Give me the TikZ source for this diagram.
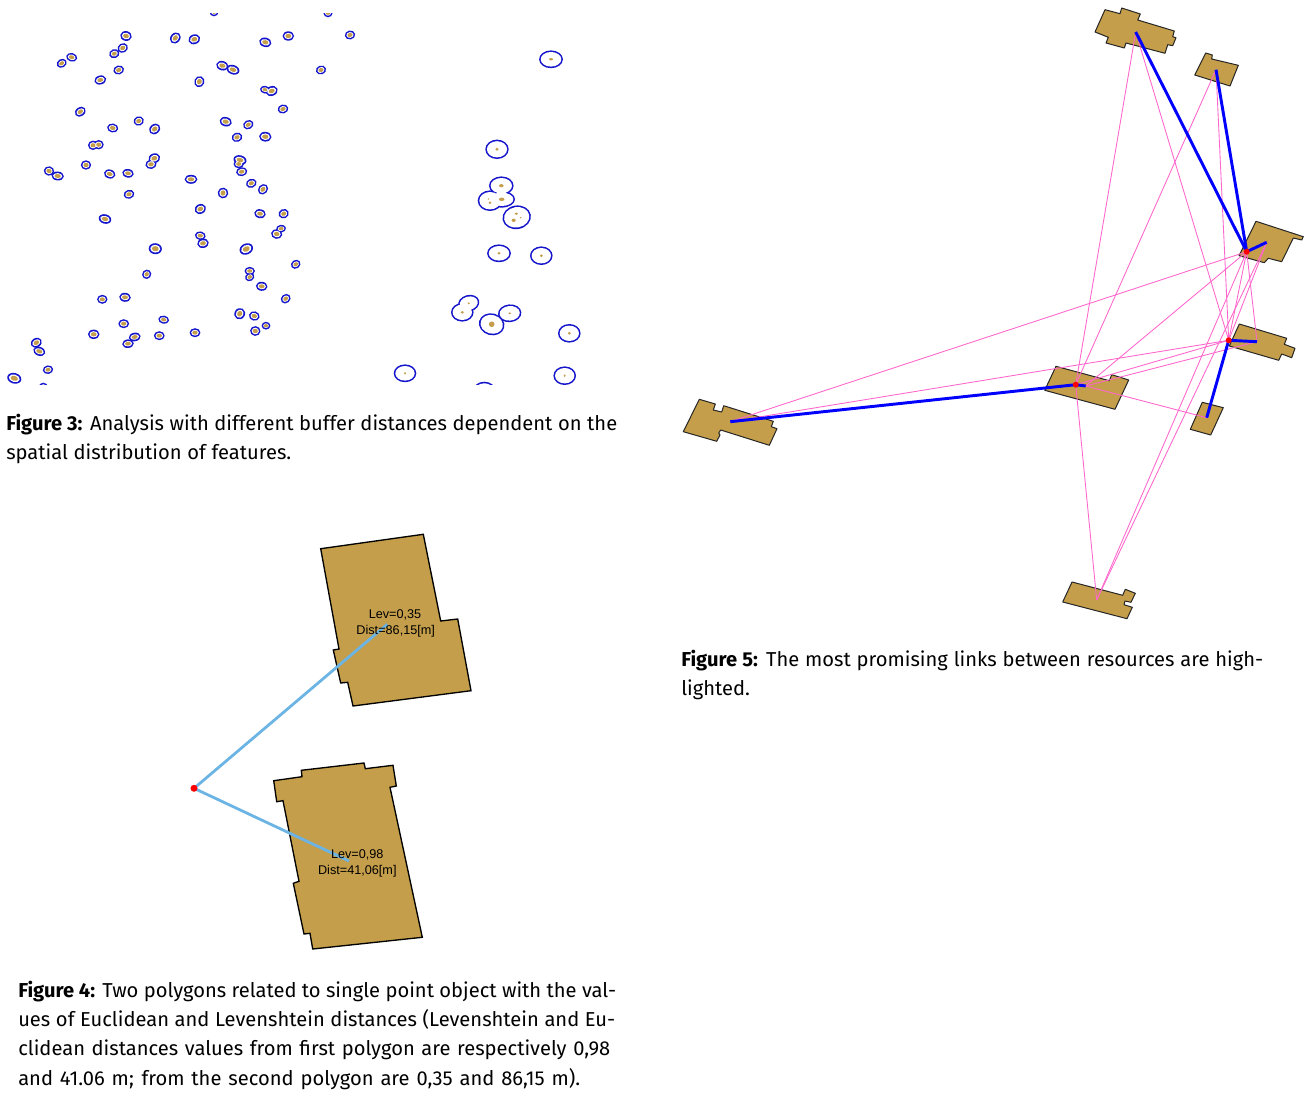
\documentclass[tikz,border=0pt]{standalone}
\usepackage{fontspec}
\setmainfont{Fira Sans}
\newfontfamily\labelfont{Liberation Sans}
\definecolor{brownfill}{HTML}{C49E4A}
\definecolor{bufblue}{HTML}{1515CC}
\definecolor{linkpink}{HTML}{FF66CC}
\definecolor{linkblue}{HTML}{0000FF}
\definecolor{skyline}{HTML}{6CB4E4}
\newcommand\fitline[2]{\makebox[#1pt][s]{#2}}
\tikzset{
  building/.style={draw=black!85,fill=brownfill,line width=0.75pt,line join=round},
  footprint/.style={draw=black,fill=brownfill,line width=1pt,line join=miter},
  pinklink/.style={draw=linkpink,line width=0.65pt},
  bluelink/.style={draw=linkblue,line width=2.2pt},
  skylink/.style={draw=skyline,line width=2.1pt},
  reddot/.style={fill=red},
  caption/.style={anchor=north west,inner sep=0pt,align=left,font=\fontsize{15.1}{21.85}\selectfont},
  maplabel/.style={inner sep=0pt,font=\labelfont\fontsize{9.5}{10}\selectfont,text=black}
}
\def\smallblobs{126/36/5.2/4/-10, 175.3/38/5.4/4/50, 194.3/39.3/5.4/4/20, 265.3/42.3/5.6/3.8/-15, 288.3/36/5.2/3.8/0,
122.7/48/4.8/3.8/30, 114.3/53.7/4.6/3.6/20, 71.7/57.3/5/3.4/-15, 61.7/63.3/4.6/3.4/30, 118.7/70/4.8/3.6/15, 100.3/80/5.4/3.6/15,
222.3/65.7/5.6/3.8/-15, 233/69.7/6/3.8/-20, 199.3/81.7/5/4.2/70, 321/70/4.6/3.6/20, 350/35/4.6/3.6/10, 265/89.7/4.4/3/-10, 271.7/91/5.6/4/20,
283/109/4.8/3.6/15, 80.3/111.7/5.2/3.6/35, 138.7/121/4.6/3.8/20, 112.7/128/5/3.6/-10, 154.7/129/5.4/4/40,
225.7/121.7/5.6/3.8/-15, 248.3/124.7/4.8/3.6/30, 237/137.3/4.8/3.8/20, 265.3/136.7/5.6/4/-5,
93/145.3/4.4/3.8/0, 98.7/144.7/4.4/3.8/0, 154.3/158.3/5.4/4/20, 151/164.3/5/3.8/10, 240/160/6/3.8/-15, 238.7/164/4.6/3.4/0, 241.7/171.7/5/3.6/10,
49/171/4.6/3.8/-10, 57.7/176/5.6/3.6/-5, 86/165/4.6/3.8/0, 109.7/174/5.2/3.6/-15, 128/173.3/5.2/3.4/-10,
191/179.3/5.8/3.6/0, 251.3/183.3/4.8/3.6/20, 263/189.3/5/3.8/50, 129/194.3/4.8/3.6/15, 223/193/4.8/4.4/80,
200.3/209/5.2/4/25, 260/213.7/5.2/3.6/-10, 283.7/213.7/4.6/3.8/25, 105/219/5.8/3.8/-15, 281/228.7/4.4/3/10, 276.7/234/5/4/-10,
200.3/235.7/4.8/3.4/-10, 203/243.3/5.2/3.8/10, 155.3/248.7/6/4.6/-5, 246.3/249/6.4/4.6/25, 295.7/264.3/4.4/3.4/35, 146.7/274.3/4.2/3.6/50,
249.7/271/4.6/3.2/0, 249.7/277/4.2/3.2/30, 261.7/286.3/5.2/3.6/-5, 102.3/299.3/4.6/3.6/0, 125/297.3/5.2/3.6/-5, 285.7/298.7/4.6/3.6/40,
239.7/313.7/5.2/4.4/60, 254.3/316/4.8/3.8/-15, 163.7/319.7/4.8/3.2/-10, 123.7/323.7/4.8/3.6/0, 266/325.7/3.8/3/0, 255.3/331/4.6/4/-5,
195/332.7/4.8/3.6/0, 93.7/334.3/5.2/3.8/0, 134.7/337/5.4/3.4/10, 128/343.7/5.2/3.4/5, 159.3/335.7/4.8/3.6/0,
36.3/342.7/5.2/3.8/30, 39.3/351.3/5.6/3.6/-20, 48/369.7/4.6/3.4/10, 14.3/378.3/6.6/4.4/-15, 43.3/387/4/3.4/0, 214/12/4/3.4/0, 328/13/4/3.4/0}
\def\bigblobs{551/59.3/11.6/8.6/0, 497/149.3/11.4/9.4/0, 501.3/185.7/12/9/0, 490/200.7/12/10/0, 501.7/199.3/13/8/0, 516.7/217.3/14/11.5/10,
499/253.3/11.6/8.6/0, 541.3/255.7/11/9/0, 468.7/303.3/10.5/8/15, 462.3/312.3/11/9/0, 491.7/324.3/12.6/10.6/-15, 509.7/313.3/11.4/8.6/5,
569.3/333.3/11/9/0, 405/373.3/11/8.6/0, 564.7/375.7/11/9/0, 484.3/391/11/9/0}
\def\bigdots{551/59.3/2/1.2, 497/149.3/1.6/1.6, 501.3/185.7/2.3/1.6, 488.3/199/0.8/0.8, 490/202.7/1.5/1.3, 501.7/199.3/2.8/1.7, 516.3/213.7/1.8/1.2, 520.7/217.7/0.9/0.8, 513.7/220.3/2/1.7,
499/253.3/1.6/1.3, 541.3/255.7/1.5/1.5, 468.7/303.3/1.1/1, 462.3/312.3/1.6/1.4, 491.7/324.3/2.8/2.8, 509.7/313.3/1.4/1, 569.3/333.3/1.5/1.5, 405/373.3/1/1.4, 564.7/375.7/1/1.4}
\begin{document}
\begin{tikzpicture}[x=0.75pt,y=-0.75pt]
\useasboundingbox (0,0) rectangle (1310,1098);
% ---------- Figure 3
\begin{scope}
\clip (0,14) rectangle (600,384);
\foreach \cx/\cy/\ra/\rb/\tilt in \smallblobs {
  \fill[bufblue,shift={(\cx,\cy)},rotate=\tilt] (0,0) ellipse [x radius={\ra+0.6},y radius={\rb+0.9}];}
\foreach \cx/\cy/\ra/\rb/\tilt in \bigblobs {
  \fill[bufblue,shift={(\cx,\cy)},rotate=\tilt] (0,0) ellipse [x radius={\ra+0.3},y radius={\rb+0.3}];}
\foreach \cx/\cy/\ra/\rb/\tilt in \smallblobs {
  \fill[white,shift={(\cx,\cy)},rotate=\tilt] (0,0) ellipse [x radius={\ra-1.0},y radius={\rb-0.7}];}
\foreach \cx/\cy/\ra/\rb/\tilt in \bigblobs {
  \fill[white,shift={(\cx,\cy)},rotate=\tilt] (0,0) ellipse [x radius={\ra-1.3},y radius={\rb-1.3}];}
\foreach \cx/\cy/\ra/\rb/\tilt in \smallblobs {
  \fill[brownfill,shift={(\cx,\cy)},rotate=\tilt] (0,0) ellipse [x radius={\ra*0.56},y radius={\rb*0.56}];}
\foreach \cx/\cy/\ra/\rb in \bigdots {
  \fill[brownfill] (\cx,\cy) ellipse [x radius=\ra,y radius=\rb];}
\end{scope}
\node[caption] (capthree) at (6,414) {\fitline{458.25}{\textbf{Figure 3:} Analysis with different buffer distances dependent on the}\\\fitline{213.75}{spatial distribution of features.}};
% ---------- Figure 4
\draw[footprint] (320.7,548.7) -- (423.3,534.3) -- (440.7,621) -- (457.7,619) -- (471,690.7) -- (353,706) -- (347.7,682.3) -- (340.7,683) -- (333.3,650) -- (339,649) -- cycle;
\draw[footprint] (273.7,780.7) -- (302,776.7) -- (301.3,770.3) -- (364,763) -- (365.3,768.7) -- (393,765.3) -- (396.3,786) -- (390,787.3) -- (422.3,937.3) -- (312.7,949) -- (310,933.3) -- (304,934) -- (293.3,883.3) -- (299,881.3) -- (283,800.7) -- (276.7,801.7) -- cycle;
\coordinate (origin) at (194,788.3);
\coordinate (topcentre) at (387.3,624.3);
\coordinate (lowcentre) at (349,861);
\draw[skylink] (origin) -- (topcentre);
\draw[skylink] (origin) -- (lowcentre);
\node[maplabel] (levtop) at (395,614.5) {Lev=0,35};
\node[maplabel] (disttop) at (395.7,631) {Dist=86,15[m]};
\node[maplabel] (levlow) at (357.3,854.5) {Lev=0,98};
\node[maplabel] (distlow) at (357.3,871) {Dist=41,06[m]};
\fill[reddot] (origin) circle (3.5);
\node[caption] (capfour) at (18,981) {\fitline{448.5}{\textbf{Figure 4:} Two polygons related to single point object with the val-}\\\fitline{447.75}{ues of Euclidean and Levenshtein distances (Levenshtein and Eu-}\\\fitline{444}{clidean distances values from first polygon are respectively 0,98}\\\fitline{421.5}{and 41.06 m; from the second polygon are 0,35 and 86,15 m).}};
% ---------- Figure 5
\draw[building] (1105,9.7) -- (1120,13.7) -- (1121.7,8) -- (1140.3,14) -- (1137.7,20) -- (1174.3,31) -- (1172.7,36.7) -- (1176,37.7) -- (1172.7,45.7) -- (1167.7,44.7) -- (1165,53.3) -- (1126,43) -- (1124.3,48) -- (1106,43) -- (1108.3,37.3) -- (1095,32) -- cycle;
\draw[building] (1205.7,53) -- (1212.3,55) -- (1211.7,59) -- (1238.3,65.3) -- (1230,86) -- (1194.7,75) -- cycle;
\draw[building] (1256,221.3) -- (1303.3,236.7) -- (1301.7,240) -- (1293.3,238) -- (1281.7,261.7) -- (1268.3,258.3) -- (1264.3,262.7) -- (1239,255.7) -- cycle;
\draw[building] (1239.3,324) -- (1286.7,338.3) -- (1284.3,344.3) -- (1295,348.3) -- (1291.7,357.7) -- (1281.7,354) -- (1278.7,360.3) -- (1229.3,346) -- cycle;
\draw[building] (1056,366.3) -- (1109.3,380.7) -- (1111.7,374.7) -- (1128.7,380) -- (1115,409.3) -- (1044.7,390.3) -- cycle;
\draw[building] (1202.3,402.3) -- (1223.3,407.7) -- (1210.7,435) -- (1190.3,429.3) -- cycle;
\draw[building] (1072,582) -- (1122.7,595.3) -- (1125.3,589.3) -- (1135.3,593.3) -- (1131,602.3) -- (1125,601) -- (1124,604.7) -- (1132.3,607.3) -- (1127,618.7) -- (1062.7,602) -- cycle;
\draw[building] (699.3,399.3) -- (715.3,404) -- (713.3,410) -- (721.7,412) -- (723.7,405.7) -- (773.3,421.3) -- (771.3,426.7) -- (777,428.7) -- (769.3,445.3) -- (720.7,430) -- (718.7,433) -- (720,435) -- (716.7,441.3) -- (683.3,431.7) -- cycle;
\coordinate (pa) at (1135.7,32);
\coordinate (pb) at (1216,69.7);
\coordinate (pc) at (1246.7,251.7);
\coordinate (cend) at (1266.7,242.3);
\coordinate (pd) at (1228.7,340.3);
\coordinate (dend) at (1257,341.7);
\coordinate (pe) at (1075.7,384.7);
\coordinate (eend) at (1085.7,386);
\coordinate (pf) at (1206.7,417.7);
\coordinate (pg) at (1096.7,600);
\coordinate (ph) at (730.3,421.7);
\foreach \from/\to in {pa/pe,pa/pd,pb/pe,pb/pd,pc/ph,pc/eend,pc/pd,cend/pd,pc/dend,pc/pg,cend/pg,ph/pd,pe/pd,eend/dend,eend/pf,pe/pg}
  \draw[pinklink] (\from) -- (\to);
\foreach \from/\to in {pa/pc,pb/pc,cend/pc,dend/pd,pf/pd,eend/pe,ph/pe}
  \draw[bluelink] (\from) -- (\to);
\foreach \dotname in {pc,pd,pe}
  \fill[reddot] (\dotname) circle (3);
\node[caption] (capfive) at (681,650) {\fitline{436.5}{\textbf{Figure 5:} The most promising links between resources are high-}\\lighted.};
\end{tikzpicture}
\end{document}
